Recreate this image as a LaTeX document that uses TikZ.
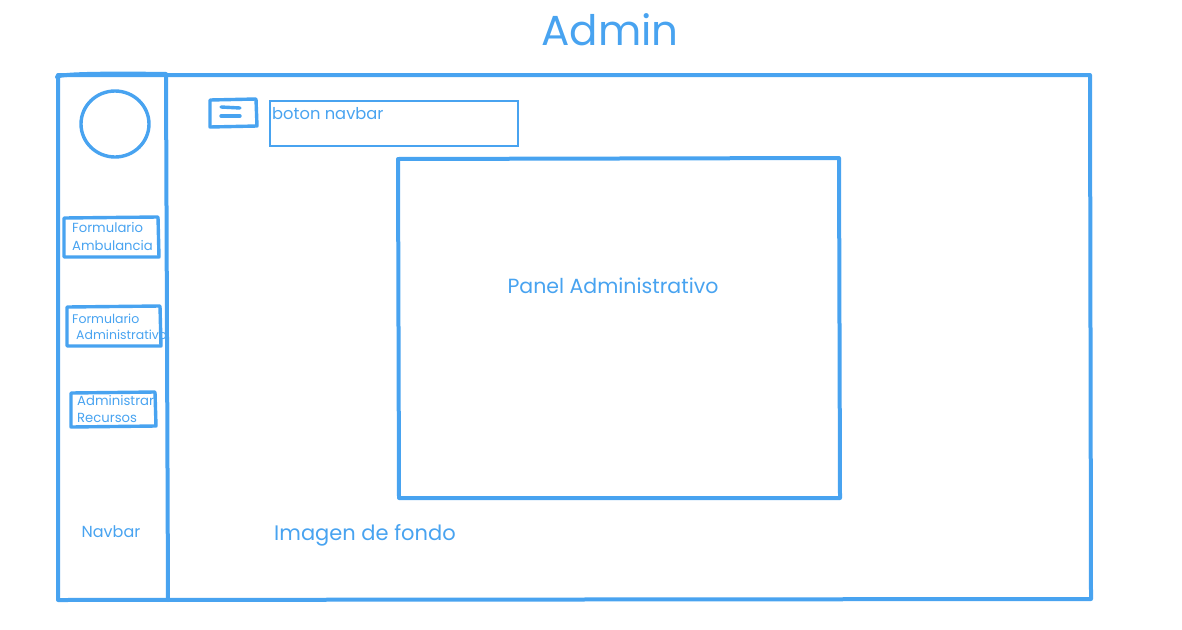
\documentclass[tikz,border=0pt]{standalone}
\usepackage{fontspec}
\setmainfont{Poppins}
\definecolor{sk}{RGB}{72,163,240}
\begin{document}
\begin{tikzpicture}[x=1pt,y=-1pt,
  thick line/.style={draw=sk,line width=4pt,line join=round,line cap=round},
  mid line/.style={draw=sk,line width=3.4pt,line join=round,line cap=round},
  thin line/.style={draw=sk,line width=1.5pt},
  lbl/.style={text=sk,inner sep=0pt,anchor=base west},
  btn/.style={lbl,font=\fontsize{13.2}{13}\selectfont}]
\useasboundingbox (0,0) rectangle (1182,629);
% title
\node[text=sk,inner sep=0pt,anchor=base,font=\fontsize{42}{42}\selectfont] (title) at (610,45) {Admin};
% outer frame
\draw[thick line] (58,75) -- (1090,75) -- (1091,599) -- (58,600) -- cycle;
\draw[thick line] (57,77) .. controls (58,74) and (100,73) .. (166,74);
% sidebar divider
\draw[thick line] (166,75) -- (168,600);
% avatar circle
\draw[mid line] (115,124) ellipse [x radius=34, y radius=33];
% hamburger icon
\draw[mid line] (210,100) -- (256,99) -- (257,126) -- (210,127) -- cycle;
\draw[mid line] (221,107) -- (240,108);
\draw[mid line] (221,116) -- (240,116);
% boton navbar box
\draw[thin line] (270,101) rectangle (518,146);
\node[lbl,font=\fontsize{16.3}{16}\selectfont] (boton) at (272,119) {boton navbar};
% panel
\draw[thick line] (398,159) -- (839,158) -- (840,498) -- (399,498) -- cycle;
\node[text=sk,inner sep=0pt,anchor=base,font=\fontsize{20.5}{20}\selectfont] (panel) at (613,293) {Panel Administrativo};
% sidebar buttons
\node[btn] (f1a) at (72,232) {Formulario};
\node[btn] (f1b) at (72,250) {Ambulancia};
\draw[mid line] (64,218) -- (158,217) -- (159,257) -- (64,257) -- cycle;
\node[btn,font=\fontsize{12.5}{13}\selectfont] (f2a) at (72,323) {Formulario};
\node[btn,font=\fontsize{12.5}{13}\selectfont] (f2b) at (76,339) {Administrativo};
\draw[mid line] (67,307) -- (160,306) -- (161,346) -- (67,346) -- cycle;
\node[btn] (f3a) at (77,405) {Administrar};
\node[btn] (f3b) at (77,422) {Recursos};
\draw[mid line] (71,393) -- (155,392) -- (156,426) -- (71,427) -- cycle;
% labels
\node[text=sk,inner sep=0pt,anchor=base,font=\fontsize{16}{16}\selectfont] (navbar) at (111,537) {Navbar};
\node[lbl,font=\fontsize{21}{21}\selectfont] (fondo) at (274,540) {Imagen de fondo};
\end{tikzpicture}
\end{document}
